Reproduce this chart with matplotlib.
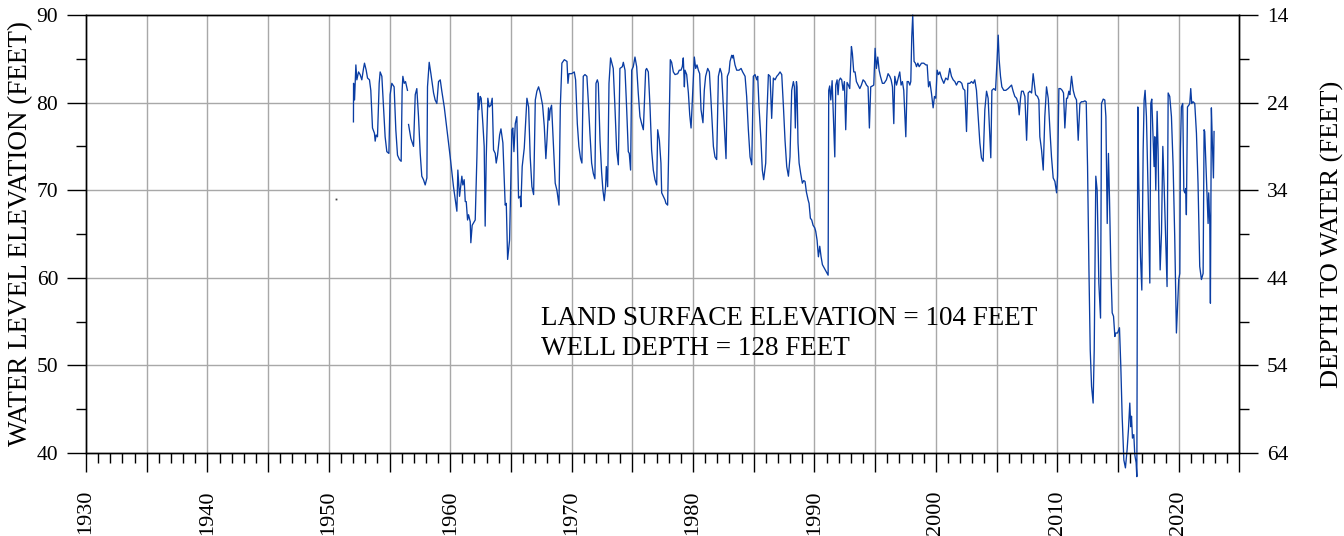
import numpy as np
import matplotlib
matplotlib.use("Agg")
import matplotlib.pyplot as plt
from matplotlib.ticker import FixedLocator

plt.rcParams['font.family'] = ['Liberation Serif', 'DejaVu Serif']

LAND_SURFACE = 104.0

years = [
 1952.03, 1952.04, 1952.12, 1952.23, 1952.31, 1952.45, 1952.58, 1952.72, 1952.86, 1952.94,
 1953.08, 1953.19, 1953.35, 1953.46, 1953.60, 1953.76, 1953.82, 1953.90, 1954.01, 1954.15,
 1954.23, 1954.37, 1954.51, 1954.64, 1954.78, 1954.95, 1955.05, 1955.19, 1955.38, 1955.52,
 1955.66, 1955.82, 1955.96, 1956.04, 1956.10, 1956.21, 1956.32, 1956.48, 1956.52, 1956.57,
 1956.76, 1956.98, 1957.12, 1957.25, 1957.39, 1957.53, 1957.66, 1957.80, 1957.94, 1958.08,
 1958.13, 1958.27, 1958.41, 1958.63, 1958.76, 1958.90, 1959.04, 1959.18, 1959.31, 1959.51,
 1959.73, 1960.00, 1960.27, 1960.55, 1960.63, 1960.77, 1960.96, 1961.04, 1961.15, 1961.24,
 1961.32, 1961.43, 1961.51, 1961.65, 1961.70, 1961.81, 1962.06, 1962.20, 1962.31, 1962.36,
 1962.47, 1962.55, 1962.69, 1962.80, 1962.88, 1962.97, 1963.10, 1963.21, 1963.35, 1963.46,
 1963.57, 1963.71, 1963.79, 1963.90, 1964.07, 1964.18, 1964.34, 1964.53, 1964.62, 1964.73,
 1964.89, 1965.08, 1965.16, 1965.25, 1965.36, 1965.49, 1965.63, 1965.77, 1965.82, 1965.93,
 1966.10, 1966.32, 1966.46, 1966.59, 1966.73, 1966.87, 1967.01, 1967.14, 1967.28, 1967.42,
 1967.61, 1967.75, 1967.88, 1967.97, 1968.10, 1968.16, 1968.24, 1968.35, 1968.52, 1968.65,
 1968.79, 1968.96, 1969.07, 1969.20, 1969.40, 1969.62, 1969.70, 1969.78,
 1970.00, 1970.22, 1970.33, 1970.47, 1970.60, 1970.74, 1970.85, 1970.96, 1971.10, 1971.26,
 1971.37, 1971.51, 1971.65, 1971.79, 1971.92, 1972.01, 1972.12, 1972.20, 1972.34, 1972.47,
 1972.58, 1972.69, 1972.80, 1972.86, 1972.97, 1973.08, 1973.21, 1973.43, 1973.57, 1973.71,
 1973.85, 1973.98, 1974.18, 1974.26, 1974.40, 1974.53, 1974.67, 1974.75, 1974.86, 1974.95,
 1975.08, 1975.22, 1975.36, 1975.49, 1975.63, 1975.77, 1975.91, 1975.99, 1976.10, 1976.18,
 1976.32, 1976.46, 1976.59, 1976.73, 1976.87, 1977.01, 1977.09, 1977.23, 1977.36, 1977.42,
 1977.55, 1977.69, 1977.77, 1977.91, 1978.02, 1978.13, 1978.24, 1978.38, 1978.52, 1978.74,
 1978.87, 1979.01, 1979.12, 1979.20, 1979.29, 1979.34, 1979.48, 1979.62, 1979.73, 1979.84,
 1979.95, 1980.11, 1980.22, 1980.33, 1980.44, 1980.55, 1980.66, 1980.82, 1980.93, 1981.04,
 1981.21, 1981.35, 1981.48, 1981.68, 1981.81, 1981.95, 1982.09, 1982.23, 1982.36, 1982.53,
 1982.64, 1982.72, 1982.83, 1982.97, 1983.05, 1983.19, 1983.27, 1983.32, 1983.46, 1983.60,
 1983.79, 1983.96, 1984.09, 1984.29, 1984.42, 1984.56, 1984.70, 1984.84, 1984.97, 1985.11,
 1985.25, 1985.33, 1985.44, 1985.60, 1985.71, 1985.82, 1985.99, 1986.07, 1986.21, 1986.35,
 1986.48, 1986.62, 1986.76, 1986.90, 1987.03, 1987.17, 1987.31, 1987.45, 1987.58, 1987.72,
 1987.86, 1987.99, 1988.13, 1988.27,
 1988.35, 1988.43, 1988.52, 1988.57, 1988.65, 1988.74, 1988.87, 1989.01, 1989.12, 1989.23,
 1989.34, 1989.48, 1989.56, 1989.67, 1989.78, 1989.89, 1990.03, 1990.11, 1990.22, 1990.33,
 1990.44, 1990.55, 1990.66, 1990.82, 1990.99, 1991.13, 1991.18, 1991.26, 1991.35, 1991.46,
 1991.57, 1991.68, 1991.76, 1991.87, 1991.95, 1992.03, 1992.14, 1992.25, 1992.36, 1992.47,
 1992.58, 1992.69, 1992.80, 1992.91, 1993.05, 1993.13, 1993.24, 1993.35, 1993.46, 1993.60,
 1993.74, 1993.87, 1994.01, 1994.15, 1994.29, 1994.42, 1994.53, 1994.64, 1994.78, 1994.89,
 1995.00, 1995.11, 1995.22, 1995.33, 1995.44, 1995.60, 1995.74, 1995.93, 1996.07, 1996.21,
 1996.32, 1996.43, 1996.54, 1996.62, 1996.76, 1996.90, 1997.03, 1997.14, 1997.25, 1997.36,
 1997.53, 1997.64, 1997.75, 1997.86, 1997.94, 1998.02, 1998.10, 1998.21, 1998.32, 1998.41,
 1998.52, 1998.63, 1998.82, 1999.01, 1999.18, 1999.29, 1999.40, 1999.51, 1999.64, 1999.78,
 1999.89, 2000.00, 2000.11, 2000.22, 2000.33, 2000.47, 2000.66, 2000.82, 2000.99, 2001.15,
 2001.29, 2001.43, 2001.57, 2001.70, 2001.84, 2001.98, 2002.14, 2002.25, 2002.39, 2002.53,
 2002.64, 2002.80, 2002.94, 2003.08, 2003.21, 2003.35, 2003.49, 2003.63, 2003.76, 2003.90,
 2004.04, 2004.18, 2004.31, 2004.45, 2004.53, 2004.62, 2004.78, 2004.92, 2005.05, 2005.14,
 2005.22, 2005.33, 2005.44, 2005.60, 2005.77, 2005.96, 2006.10, 2006.24, 2006.37, 2006.51,
 2006.65, 2006.79, 2006.87, 2006.98, 2007.06, 2007.20, 2007.34, 2007.48, 2007.61, 2007.75,
 2007.89, 2008.02, 2008.11, 2008.22, 2008.38, 2008.49, 2008.57, 2008.71, 2008.85, 2008.98,
 2009.12, 2009.26, 2009.40, 2009.53, 2009.67, 2009.81, 2009.95, 2010.03, 2010.14, 2010.27,
 2010.41, 2010.52, 2010.63, 2010.77, 2010.85, 2010.96, 2011.04, 2011.18, 2011.32, 2011.45,
 2011.59, 2011.73, 2011.87, 2012.00, 2012.14, 2012.28, 2012.39, 2012.50, 2012.61, 2012.72,
 2012.83, 2012.96, 2013.05, 2013.18, 2013.29, 2013.43, 2013.57, 2013.65, 2013.79, 2013.92,
 2014.01, 2014.12, 2014.22, 2014.31, 2014.42, 2014.53, 2014.64, 2014.75, 2014.83, 2014.97,
 2015.13, 2015.24, 2015.35, 2015.49, 2015.62, 2015.76, 2015.87, 2015.98, 2016.06, 2016.12,
 2016.20, 2016.31, 2016.39, 2016.50, 2016.56, 2016.64, 2016.72, 2016.86, 2016.97, 2017.08,
 2017.16, 2017.24, 2017.35, 2017.49, 2017.63, 2017.71, 2017.79, 2017.90, 2017.98, 2018.04,
 2018.12, 2018.23, 2018.31, 2018.39, 2018.48, 2018.59, 2018.70, 2018.81, 2018.94, 2019.05,
 2019.14, 2019.27, 2019.41, 2019.55, 2019.68, 2019.82, 2019.93, 2020.01, 2020.10, 2020.15,
 2020.23, 2020.34, 2020.43, 2020.51, 2020.59, 2020.64, 2020.73, 2020.84, 2020.92, 2021.00,
 2021.08, 2021.19, 2021.33, 2021.47, 2021.60, 2021.74, 2021.88, 2022.02, 2022.10, 2022.15,
 2022.29, 2022.43, 2022.48, 2022.57, 2022.62, 2022.70, 2022.78, 2022.87, 2022.92,
]

levels = [
 77.8, 82.2, 80.3, 84.3, 82.6, 83.5, 83.2, 82.6, 83.9, 84.5,
 83.7, 82.8, 82.6, 81.4, 77.1, 76.5, 75.6, 76.3, 76.1, 82.2,
 83.5, 83.0, 79.5, 76.1, 74.4, 74.2, 80.9, 82.2, 81.8, 76.9,
 74.0, 73.5, 73.3, 81.4, 83.0, 82.2, 82.4, 81.4, np.nan, 77.5,
 75.9, 75.0, 80.9, 81.6, 78.4, 74.2, 71.6, 71.2, 70.6, 71.4,
 81.8, 84.6, 83.3, 81.1, 80.3, 79.9, 82.4, 82.6, 81.3, 79.5,
 76.9, 73.8, 70.4, 67.6, 72.3, 69.3, 71.6, 70.6, 71.2, 68.7,
 68.7, 66.6, 67.2, 66.4, 64.0, 66.0, 66.6, 73.8, 81.1, 79.2,
 80.7, 80.5, 77.6, 75.0, 65.9, 73.8, 80.5, 79.5, 79.7, 80.5,
 74.6, 74.2, 73.1, 74.0, 76.3, 77.0, 75.4, 68.3, 68.5, 62.1,
 64.3, 76.9, 77.1, 74.4, 77.6, 78.4, 69.1, 69.3, 68.1, 72.7,
 74.8, 80.5, 79.5, 73.8, 70.4, 69.5, 80.3, 81.3, 81.8, 81.1,
 79.7, 77.3, 73.6, 75.7, 79.4, 78.0, 79.2, 79.7, 74.6, 70.8,
 70.0, 68.3, 79.5, 84.5, 84.9, 84.7, 82.2, 83.3,
 83.3, 83.5, 82.6, 77.6, 75.0, 73.6, 73.1, 83.0, 83.2, 83.0,
 80.3, 76.5, 73.1, 71.9, 71.3, 82.2, 82.6, 82.2, 75.7, 72.1,
 70.0, 68.8, 70.4, 72.7, 70.4, 82.2, 85.1, 83.9, 79.5, 74.6,
 72.9, 83.9, 84.1, 84.6, 83.7, 79.5, 74.4, 74.2, 72.3, 83.7,
 84.1, 85.2, 84.1, 81.1, 78.4, 77.6, 76.9, 79.9, 83.7, 83.9,
 83.5, 79.5, 74.6, 72.3, 71.2, 70.6, 76.9, 75.7, 73.1, 69.7,
 69.3, 68.9, 68.5, 68.3, 76.1, 84.9, 84.6, 83.5, 83.2, 83.3,
 83.7, 83.7, 84.1, 85.1, 81.8, 83.7, 83.2, 81.1, 78.6, 77.1,
 80.3, 85.2, 83.9, 84.3, 83.7, 83.3, 79.2, 77.7, 81.4, 83.0,
 83.9, 83.5, 80.3, 75.0, 73.8, 73.5, 83.0, 83.9, 83.3, 78.8,
 75.7, 73.6, 83.0, 83.5, 84.7, 85.4, 85.1, 85.4, 84.3, 83.7,
 83.7, 83.9, 83.5, 83.0, 80.7, 76.9, 73.8, 72.9, 83.0, 83.2,
 82.6, 83.0, 79.5, 75.7, 72.3, 71.2, 73.1, 78.0, 83.2, 83.0,
 78.2, 82.8, 82.6, 83.0, 83.2, 83.5, 83.2, 79.5, 75.7, 72.7,
 71.6, 73.8, 81.4, 82.4,
 81.8, 77.1, 82.4, 81.8, 75.4, 73.1, 71.9, 70.8, 71.1, 71.0,
 69.8, 68.9, 68.5, 66.8, 66.6, 66.0, 65.7, 65.3, 64.3, 62.4,
 63.6, 62.4, 61.5, 61.1, 60.7, 60.3, 81.4, 81.9, 80.3, 82.5,
 78.0, 73.8, 82.0, 82.6, 80.9, 82.5, 82.8, 82.6, 81.4, 82.4,
 76.9, 82.3, 82.0, 81.6, 86.4, 85.6, 83.5, 83.5, 82.4, 82.0,
 81.6, 82.0, 82.6, 82.4, 82.0, 81.8, 77.1, 81.8, 81.9, 82.0,
 86.2, 83.9, 85.2, 83.7, 83.0, 82.2, 82.2, 82.6, 83.3, 83.0,
 82.6, 81.8, 77.6, 83.0, 82.0, 82.8, 83.5, 82.0, 82.4, 81.4,
 76.1, 82.4, 82.4, 82.0, 82.4, 87.5, 90.0, 84.7, 84.5, 84.1,
 84.5, 84.1, 84.5, 84.5, 84.3, 84.3, 81.8, 82.4, 81.1, 79.4,
 80.7, 80.5, 83.7, 83.2, 83.5, 82.8, 82.2, 82.8, 82.6, 83.9,
 83.0, 82.6, 82.4, 82.0, 82.4, 82.4, 82.2, 81.6, 81.4, 76.7,
 82.2, 82.2, 82.4, 82.2, 82.6, 81.4, 78.4, 75.4, 73.7, 73.3,
 79.2, 81.3, 80.5, 76.1, 73.7, 81.4, 81.6, 81.4, 84.9, 87.7,
 84.9, 83.0, 81.8, 81.4, 81.4, 81.6, 81.8, 82.0, 81.3, 80.7,
 80.5, 79.9, 78.6, 80.5, 81.3, 81.3, 80.7, 75.7, 81.1, 81.3,
 81.1, 83.3, 82.2, 80.9, 80.7, 80.3, 76.1, 74.6, 72.3, 78.4,
 81.8, 80.5, 76.9, 73.8, 71.4, 71.0, 69.7, 71.6, 81.6, 81.6,
 81.4, 81.1, 77.1, 80.5, 80.5, 81.3, 80.9, 83.0, 81.4, 80.7,
 80.3, 75.7, 79.9, 80.1, 80.1, 80.2, 80.1, 72.7, 61.3, 51.8,
 47.6, 45.7, 51.8, 71.6, 70.0, 59.4, 55.4, 79.9, 80.4, 80.3,
 78.4, 66.2, 74.2, 68.9, 61.1, 56.0, 55.6, 53.3, 53.7, 53.7,
 54.3, 49.9, 44.2, 39.2, 38.3, 40.4, 42.7, 45.7, 43.0, 44.2,
 41.7, 42.1, 39.8, 38.9, 37.3, 79.5, 70.8, 62.4, 58.6, 74.6,
 80.3, 81.4, 78.4, 69.7, 59.4, 79.9, 80.4, 76.1, 72.7, 76.1,
 70.0, 79.0, 74.6, 67.0, 60.9, 65.1, 75.0, 70.4, 64.0, 59.0,
 81.1, 80.7, 78.4, 72.7, 64.7, 53.7, 57.1, 59.8, 60.5, 74.6,
 79.5, 79.9, 70.0, 69.7, 70.2, 67.2, 79.5, 79.7, 79.9, 81.6,
 79.9, 80.1, 79.9, 76.5, 70.8, 61.3, 59.8, 60.5, 76.9, 76.7,
 71.6, 66.2, 69.7, 66.2, 57.1, 79.4, 75.4, 71.4, 76.7,
]

# isolated early measurement
single_year = [1950.6]
single_level = [69.0]

x_major = list(range(1930, 2026, 5))
x_labels = [str(y) if y % 10 == 0 and y <= 2020 else "" for y in x_major]
x_minor = list(range(1930, 2026))
y_major = [40, 50, 60, 70, 80, 90]
y_minor = [45, 55, 65, 75, 85]
depth_major = [14, 24, 34, 44, 54, 64]
depth_minor = [19, 29, 39, 49, 59]

fig = plt.figure(figsize=(13.44, 5.36), dpi=100)
ax = fig.add_axes([86/1344, 1 - 453/536, (1239.3 - 86)/1344, (453 - 15)/536])

ax.set_xlim(1930, 2025)
ax.set_ylim(40, 90)

for xv in x_major[1:-1]:
    ax.axvline(xv, color='#a8a8a8', lw=1.0, zorder=1)
for yv in y_major[1:-1]:
    ax.axhline(yv, color='#a8a8a8', lw=1.0, zorder=1)

ax.plot(years, levels, color='#0a3da3', lw=0.95, clip_on=False, zorder=3)
ax.plot(single_year, single_level, linestyle='none', marker='s', ms=1.3,
        color='#444444', mec='none', zorder=3)

ax.xaxis.set_major_locator(FixedLocator(x_major))
ax.xaxis.set_minor_locator(FixedLocator(x_minor))
ax.set_xticklabels(x_labels, rotation=90, fontsize=16)
ax.tick_params(axis='x', which='major', length=13.7, width=1.0, pad=13, direction='out')
ax.tick_params(axis='x', which='minor', length=7, width=1.0, direction='out')

ax.yaxis.set_major_locator(FixedLocator(y_major))
ax.yaxis.set_minor_locator(FixedLocator(y_minor))
ax.tick_params(axis='y', which='major', length=14, width=1.0, pad=6, labelsize=15.5, direction='out')
ax.tick_params(axis='y', which='minor', length=7, width=1.0, direction='out')

for s in ax.spines.values():
    s.set_linewidth(1.0)
    s.set_color('black')

ax.set_ylabel('WATER LEVEL ELEVATION (FEET)', fontsize=19.5)
ax.yaxis.set_label_coords(-0.0455, 0.5)

ax2 = ax.twinx()
ax2.set_ylim(LAND_SURFACE - 40, LAND_SURFACE - 90)
ax2.yaxis.set_major_locator(FixedLocator(depth_major))
ax2.yaxis.set_minor_locator(FixedLocator(depth_minor))
ax2.tick_params(axis='y', which='major', length=14, width=1.0, pad=6, labelsize=15.5, direction='out')
ax2.tick_params(axis='y', which='minor', length=7, width=1.0, direction='out')
for s in ax2.spines.values():
    s.set_linewidth(1.0)
ax2.set_ylabel('DEPTH TO WATER (FEET)', fontsize=19)
ax2.yaxis.set_label_coords(1.0705, 0.5)

ax.text(1967.49, 54.6, 'LAND SURFACE ELEVATION = 104 FEET', fontsize=19.5,
        ha='left', va='baseline', zorder=4)
ax.text(1967.49, 51.2, 'WELL DEPTH = 128 FEET', fontsize=19.5,
        ha='left', va='baseline', zorder=4)

fig.savefig('out.png', dpi=100)
